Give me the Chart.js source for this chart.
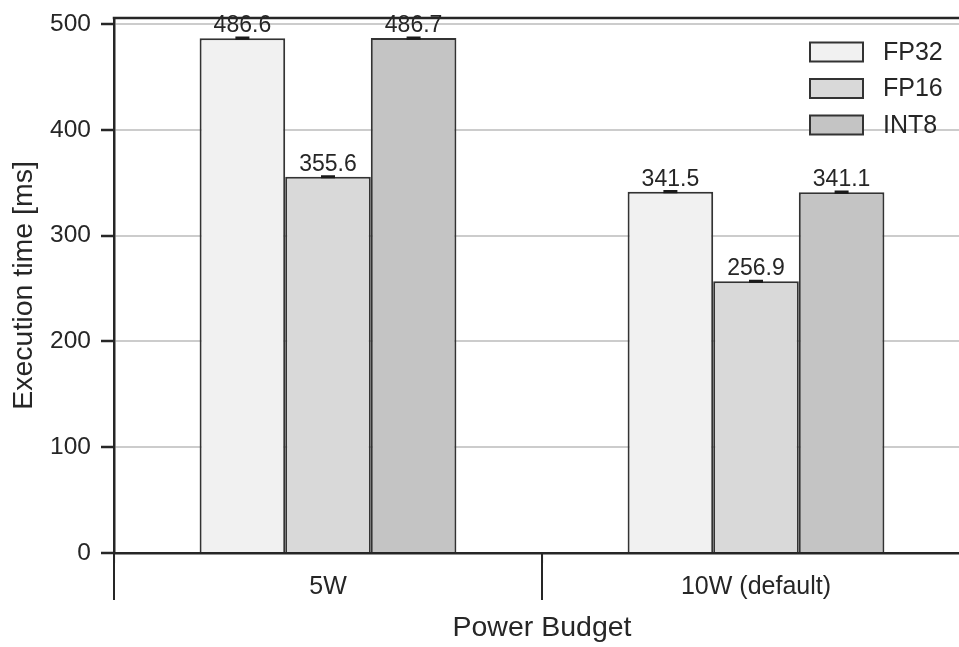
<!DOCTYPE html>
<html>
<head>
<meta charset="utf-8">
<script src="https://cdn.jsdelivr.net/npm/chart.js@4/dist/chart.umd.min.js"></script>
<style>
  html, body { margin: 0; padding: 0; background: #fff; overflow: hidden; }
  #wrap { width: 959px; height: 647px; overflow: hidden; position: relative; }
  canvas { display: block; }
</style>
</head>
<body>
<div id="wrap"><canvas id="chart" width="970" height="647"></canvas></div>
<script>
// Power budgets on the x axis
const budgets = ['5W', '10W (default)'];
// Numeric precision of each series
const precisions = ['FP32', 'FP16', 'INT8'];
// Mean execution time per budget [ms]
const fp32Times = [486.6, 341.5];
const fp16Times = [355.6, 256.9];
const int8Times = [486.7, 341.1];
// Spread of the measurements [ms]
const fp32Err = [0.6, 0.6];
const fp16Err = [0.5, 0.5];
const int8Err = [0.6, 0.6];
// Y axis ticks
const yTicks = [0, 100, 200, 300, 400, 500];
const yMax = 505.7;

const FONT = '"Liberation Sans", Arial, Helvetica, sans-serif';
const INK = '#262626';
const fills = ['#f1f1f1', '#d9d9d9', '#c4c4c4'];
const times = [fp32Times, fp16Times, int8Times];
const errs = [fp32Err, fp16Err, int8Err];

const datasets = precisions.map((name, k) => ({
  label: name,
  data: times[k],
  errors: errs[k],
  backgroundColor: fills[k],
  borderColor: '#333333',
  borderWidth: 2,
  borderSkipped: 'bottom',
  categoryPercentage: 0.6,
  barPercentage: 1.0
}));

const decorations = {
  id: 'decorations',
  afterDatasetsDraw(chart) {
    const { ctx, scales: { y } } = chart;
    chart.data.datasets.forEach((ds, di) => {
      const meta = chart.getDatasetMeta(di);
      meta.data.forEach((bar, i) => {
        const v = ds.data[i];
        const e = ds.errors[i];
        const lo = y.getPixelForValue(v - e);
        const hi = y.getPixelForValue(v + e);
        ctx.save();
        ctx.strokeStyle = '#1a1a1a';
        ctx.lineWidth = 2;
        ctx.beginPath();
        ctx.moveTo(bar.x, lo); ctx.lineTo(bar.x, hi);
        ctx.moveTo(bar.x - 7, lo); ctx.lineTo(bar.x + 7, lo);
        ctx.moveTo(bar.x - 7, hi); ctx.lineTo(bar.x + 7, hi);
        ctx.stroke();
        ctx.fillStyle = INK;
        ctx.font = '23px ' + FONT;
        ctx.textAlign = 'center';
        ctx.textBaseline = 'alphabetic';
        ctx.fillText(v.toFixed(1), bar.x, y.getPixelForValue(v) - 6);
        ctx.restore();
      });
    });
  },
  afterDraw(chart) {
    const { ctx, chartArea: a, scales: { x } } = chart;
    ctx.save();
    // top frame line
    ctx.strokeStyle = INK;
    ctx.lineWidth = 2.5;
    ctx.beginPath();
    ctx.moveTo(a.left - 1.25, a.top);
    ctx.lineTo(a.right, a.top);
    ctx.stroke();

    // group separators below the x axis
    const n = chart.data.labels.length;
    const step = n > 1 ? x.getPixelForValue(1) - x.getPixelForValue(0) : x.width;
    ctx.lineWidth = 2;
    ctx.beginPath();
    for (let i = 0; i <= n; i++) {
      const px = Math.round(x.getPixelForValue(0) - step / 2 + i * step);
      ctx.moveTo(px, a.bottom);
      ctx.lineTo(px, a.bottom + 47);
    }
    ctx.stroke();

    // legend
    const lx = a.right - 160, ly = 52, gap = 36.5;
    ctx.font = '25px ' + FONT;
    ctx.textBaseline = 'middle';
    ctx.textAlign = 'left';
    chart.data.datasets.forEach((ds, k) => {
      const cy = ly + k * gap;
      ctx.fillStyle = ds.backgroundColor;
      ctx.fillRect(lx, cy - 9.5, 53, 19);
      ctx.strokeStyle = '#333333';
      ctx.lineWidth = 2;
      ctx.strokeRect(lx, cy - 9.5, 53, 19);
      ctx.fillStyle = INK;
      ctx.fillText(ds.label, lx + 73, cy + 1);
    });
    ctx.restore();
  }
};

// keep the plot frame fixed regardless of tick label overhang
function noOverhang(s) {
  s.paddingTop = 0; s.paddingBottom = 0;
  s.paddingLeft = 0; s.paddingRight = 0;
}

new Chart(document.getElementById('chart'), {
  type: 'bar',
  data: { labels: budgets, datasets },
  options: {
    responsive: false,
    animation: false,
    devicePixelRatio: 1,
    layout: { autoPadding: false, padding: { top: 18, left: 0, right: 0, bottom: 0 } },
    plugins: {
      legend: { display: false },
      tooltip: { enabled: false }
    },
    scales: {
      x: {
        border: { color: INK, width: 2.5 },
        grid: { display: true, drawOnChartArea: false, tickLength: 10, tickColor: '#9a9a9a', tickWidth: 1.2 },
        ticks: { font: { family: FONT, size: 25 }, color: INK, padding: 9 },
        title: { display: true, text: 'Power Budget', font: { family: FONT, size: 28.5 }, color: INK, padding: { top: 0, bottom: 2 } },
        afterFit(s) { s.height = 94; noOverhang(s); }
      },
      y: {
        min: 0,
        max: yMax,
        border: { color: INK, width: 2.5 },
        grid: { color: '#cccccc', lineWidth: 2, tickColor: INK, tickLength: 13, tickWidth: 2.5 },
        afterBuildTicks(s) { s.ticks = yTicks.map(v => ({ value: v })); },
        ticks: { font: { family: FONT, size: 24.5 }, color: INK, padding: 10 },
        title: { display: true, text: 'Execution time [ms]', font: { family: FONT, size: 28.5 }, color: INK, padding: { top: 7, bottom: 0 } },
        afterFit(s) { s.width = 114; noOverhang(s); }
      }
    }
  },
  plugins: [decorations]
});
</script>
</body>
</html>
